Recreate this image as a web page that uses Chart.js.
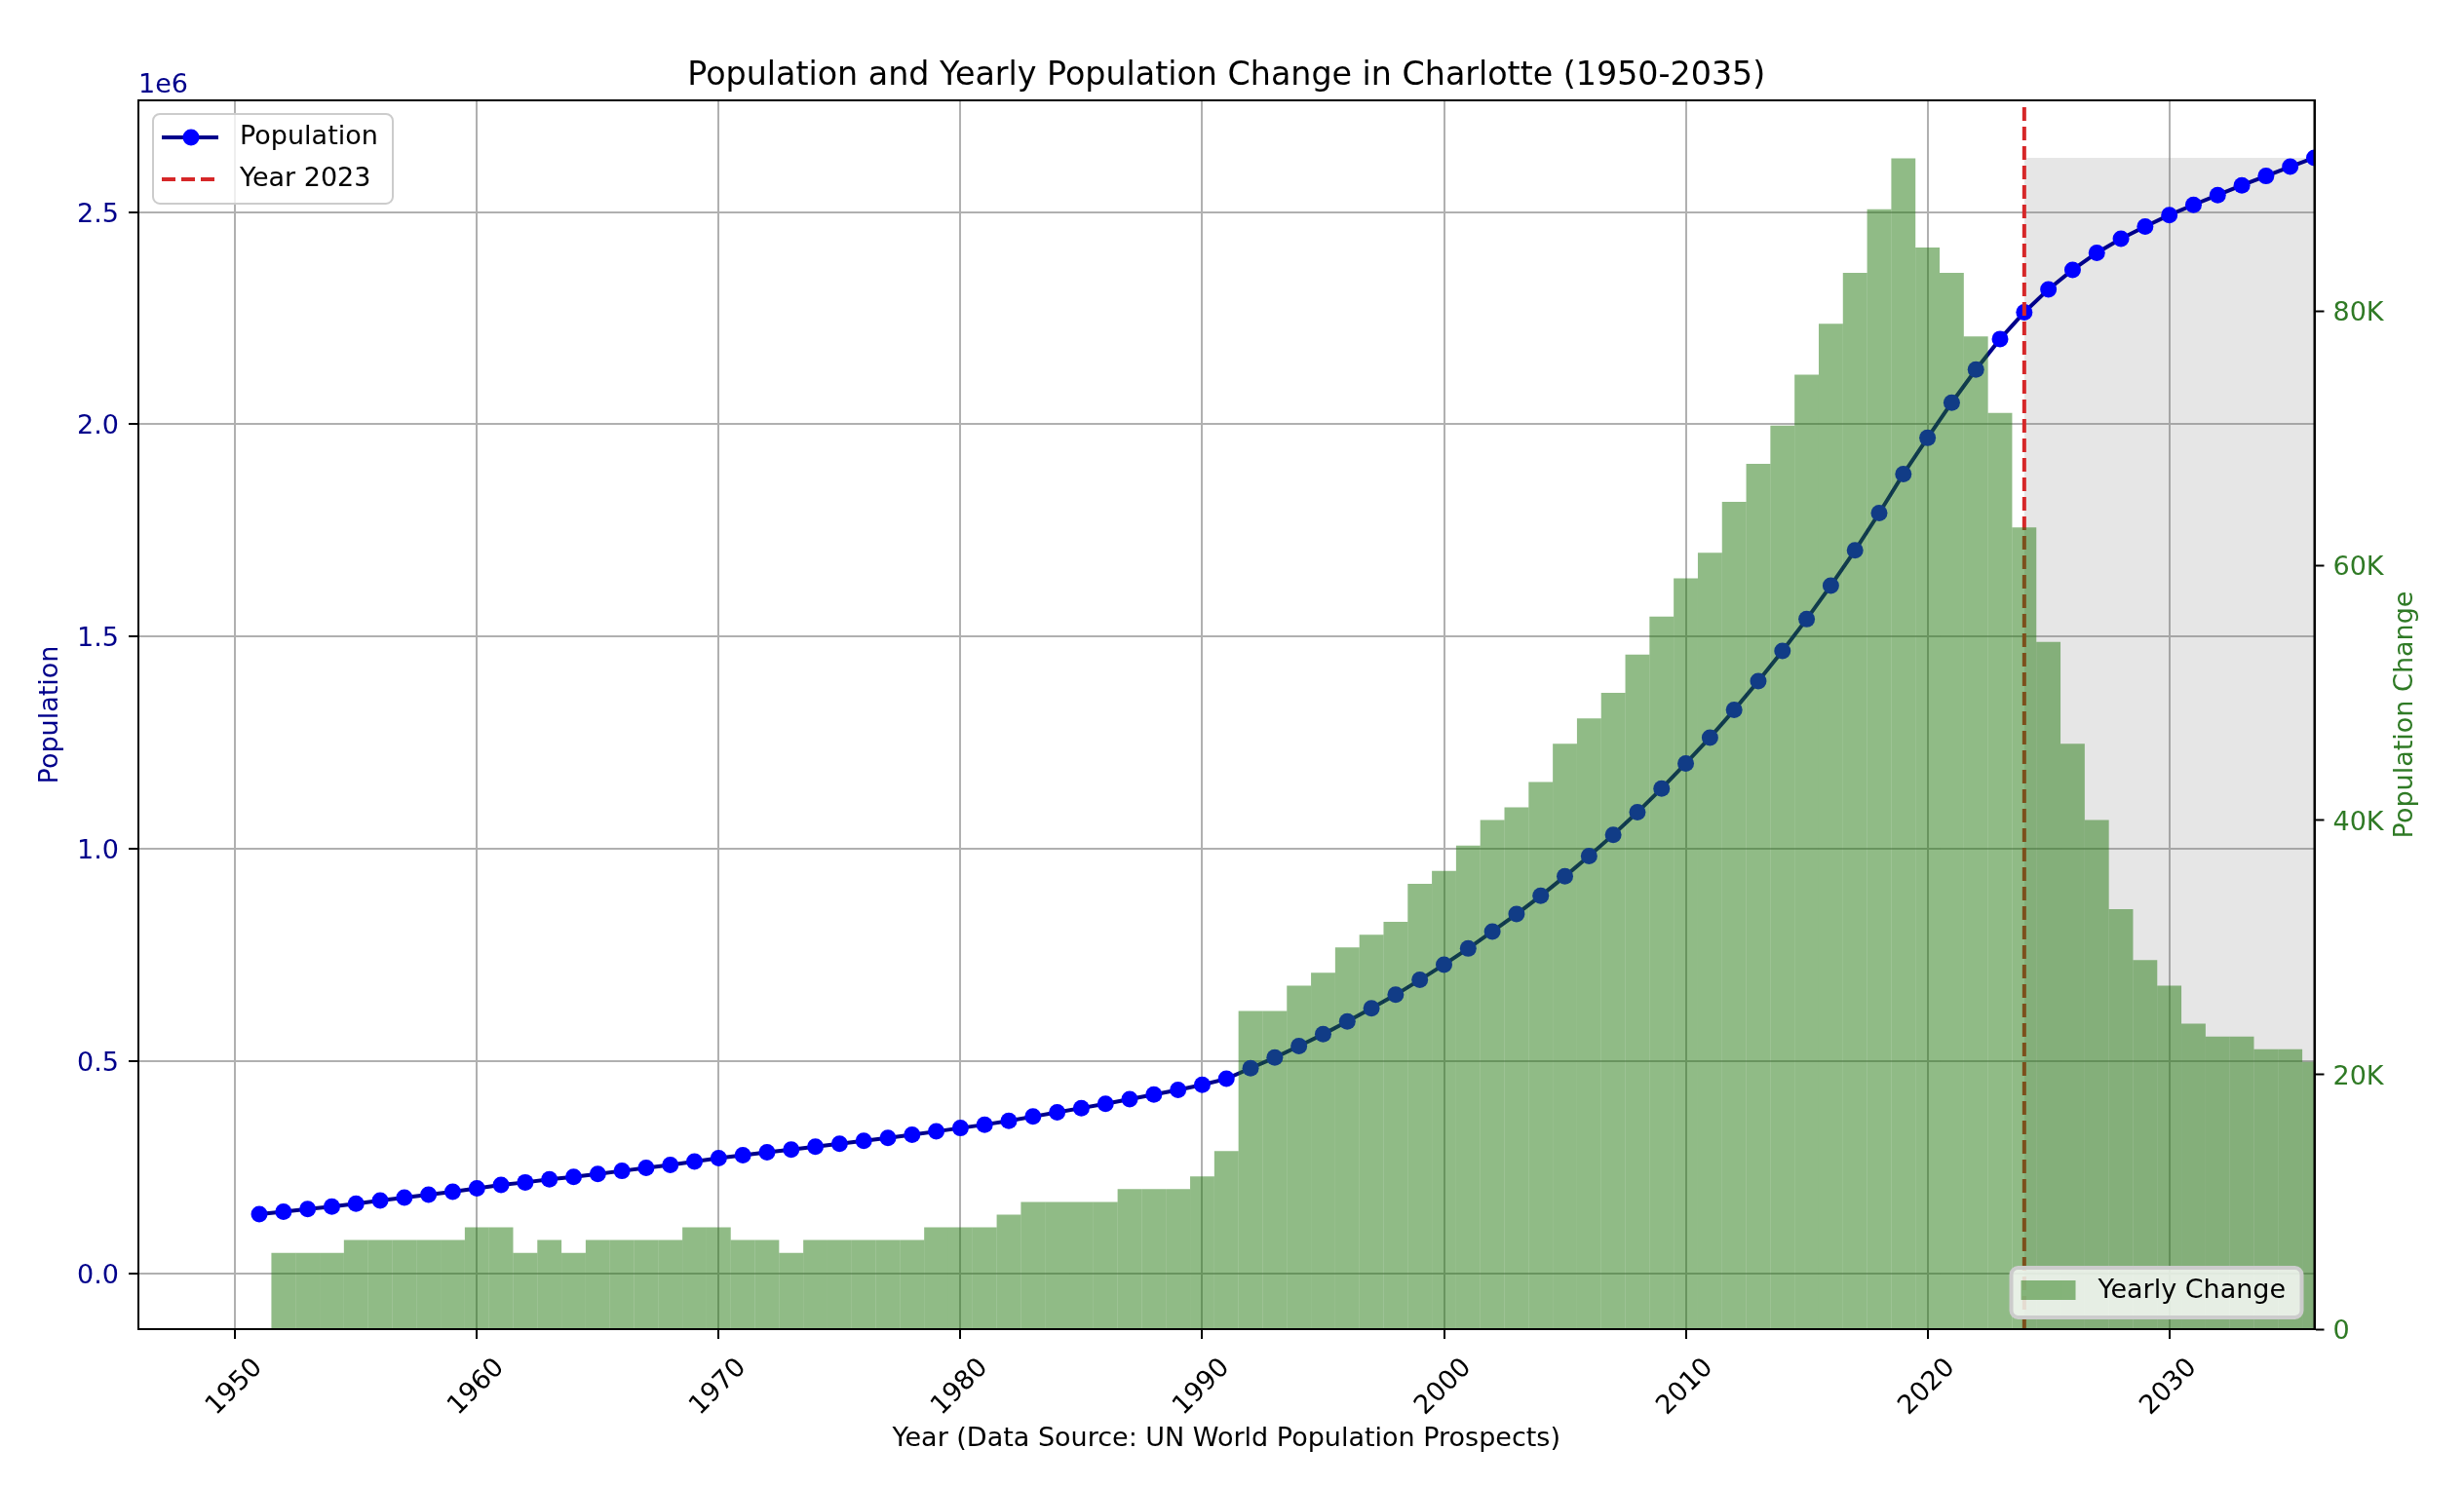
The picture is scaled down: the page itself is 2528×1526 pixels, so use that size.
<!DOCTYPE html>
<html>
  <head>
    <meta charset="UTF-8">
    <title>Population and Yearly Population Change in Charlotte</title>
    <script src="https://cdn.jsdelivr.net/npm/chart.js@4.4.0/dist/chart.umd.min.js"></script>
    <style>
      body { margin: 0; background: #ffffff; }
      #chartPopulation { display: block; }
    </style>
  </head>
  <body>
    <canvas id="chartPopulation" width="2528" height="1526"></canvas>

    <script>
      // population, one point per year
      const popYears = [
        1951, 1952, 1953, 1954, 1955, 1956, 1957, 1958, 1959, 1960,
        1961, 1962, 1963, 1964, 1965, 1966, 1967, 1968, 1969, 1970,
        1971, 1972, 1973, 1974, 1975, 1976, 1977, 1978, 1979, 1980,
        1981, 1982, 1983, 1984, 1985, 1986, 1987, 1988, 1989, 1990,
        1991, 1992, 1993, 1994, 1995, 1996, 1997, 1998, 1999, 2000,
        2001, 2002, 2003, 2004, 2005, 2006, 2007, 2008, 2009, 2010,
        2011, 2012, 2013, 2014, 2015, 2016, 2017, 2018, 2019, 2020,
        2021, 2022, 2023, 2024, 2025, 2026, 2027, 2028, 2029, 2030,
        2031, 2032, 2033, 2034, 2035, 2036
      ];
      const population = [
        139000, 145000, 151000, 157000, 164000, 171000, 178000, 185000, 192000, 200000,
        208000, 214000, 221000, 227000, 234000, 241000, 248000, 255000, 263000, 271000,
        278000, 285000, 291000, 298000, 305000, 312000, 319000, 326000, 334000, 342000,
        350000, 359000, 369000, 379000, 389000, 399000, 410000, 421000, 432000, 444000,
        458000, 483000, 508000, 535000, 563000, 593000, 624000, 656000, 691000, 727000,
        765000, 805000, 846000, 889000, 935000, 983000, 1033000, 1086000, 1142000, 1201000,
        1262000, 1327000, 1395000, 1466000, 1541000, 1620000, 1703000, 1791000, 1883000, 1968000,
        2051000, 2129000, 2201000, 2264000, 2318000, 2364000, 2404000, 2437000, 2466000, 2493000,
        2517000, 2540000, 2563000, 2585000, 2607000, 2628000
      ];

      // yearly change, one bar per year
      const changeYears = [
        1952, 1953, 1954, 1955, 1956, 1957, 1958, 1959, 1960,
        1961, 1962, 1963, 1964, 1965, 1966, 1967, 1968, 1969, 1970,
        1971, 1972, 1973, 1974, 1975, 1976, 1977, 1978, 1979, 1980,
        1981, 1982, 1983, 1984, 1985, 1986, 1987, 1988, 1989, 1990,
        1991, 1992, 1993, 1994, 1995, 1996, 1997, 1998, 1999, 2000,
        2001, 2002, 2003, 2004, 2005, 2006, 2007, 2008, 2009, 2010,
        2011, 2012, 2013, 2014, 2015, 2016, 2017, 2018, 2019, 2020,
        2021, 2022, 2023, 2024, 2025, 2026, 2027, 2028, 2029, 2030,
        2031, 2032, 2033, 2034, 2035, 2036
      ];
      const yearlyChange = [
        6000, 6000, 6000, 7000, 7000, 7000, 7000, 7000, 8000,
        8000, 6000, 7000, 6000, 7000, 7000, 7000, 7000, 8000, 8000,
        7000, 7000, 6000, 7000, 7000, 7000, 7000, 7000, 8000, 8000,
        8000, 9000, 10000, 10000, 10000, 10000, 11000, 11000, 11000, 12000,
        14000, 25000, 25000, 27000, 28000, 30000, 31000, 32000, 35000, 36000,
        38000, 40000, 41000, 43000, 46000, 48000, 50000, 53000, 56000, 59000,
        61000, 65000, 68000, 71000, 75000, 79000, 83000, 88000, 92000, 85000,
        83000, 78000, 72000, 63000, 54000, 46000, 40000, 33000, 29000, 27000,
        24000, 23000, 23000, 22000, 22000, 21000
      ];

      // marker line and projection shading
      const markYear = 2024;
      const shadeYears = [2024, 2036];
      const shadeTop = 2628000;

      // axis ranges and tick values
      const xMin = 1946, xMax = 2036;
      const xTicks = [1950, 1960, 1970, 1980, 1990, 2000, 2010, 2020, 2030];
      const popMin = -131800, popMax = 2763300;
      const popTicks = [0, 500000, 1000000, 1500000, 2000000, 2500000];
      const changeMin = 0, changeMax = 96560;
      const changeTicks = [0, 20000, 40000, 60000, 80000];

      const popLine = '#00008b';
      const popMarker = '#0000ff';
      const barColor = 'rgba(34, 120, 14, 0.5)';
      const changeText = '#2f7a25';
      const redLine = '#d62728';
      const shadeColor = 'rgba(128, 128, 128, 0.2)';
      const gridColor = '#b0b0b0';

      Chart.defaults.font.family = "'DejaVu Sans', sans-serif";
      Chart.defaults.font.size = 27;
      Chart.defaults.color = '#000000';

      const setTicks = (values) => (scale) => {
        scale.ticks = values.map((v) => ({value: v}));
      };

      const overlayPlugin = {
        id: 'overlay',
        afterDatasetsDraw(chart) {
          const ctx = chart.ctx;
          const a = chart.chartArea;
          ctx.save();

          // axes frame
          ctx.strokeStyle = '#000000';
          ctx.lineWidth = 2;
          ctx.strokeRect(a.left, a.top, a.right - a.left, a.bottom - a.top);

          ctx.font = "27px 'DejaVu Sans'";

          // offset text of left axis
          ctx.fillStyle = popLine;
          ctx.textAlign = 'left';
          ctx.textBaseline = 'alphabetic';
          ctx.fillText('1e6', a.left, a.top - 8);

          // right axis title, reads upward
          ctx.save();
          ctx.translate(a.right + 93, (a.top + a.bottom) / 2);
          ctx.rotate(-Math.PI / 2);
          ctx.textAlign = 'center';
          ctx.textBaseline = 'middle';
          ctx.fillStyle = changeText;
          ctx.fillText('Population Change', 0, 0);
          ctx.restore();

          // legend of the left axis
          let bx = a.left + 15, by = a.top + 14;
          ctx.beginPath();
          ctx.roundRect(bx, by, 246, 92, 7);
          ctx.fillStyle = 'rgba(255, 255, 255, 0.8)';
          ctx.fill();
          ctx.strokeStyle = '#cccccc';
          ctx.lineWidth = 2;
          ctx.stroke();

          ctx.strokeStyle = popLine;
          ctx.lineWidth = 4;
          ctx.beginPath();
          ctx.moveTo(bx + 9, by + 24);
          ctx.lineTo(bx + 67, by + 24);
          ctx.stroke();
          ctx.fillStyle = popMarker;
          ctx.beginPath();
          ctx.arc(bx + 39, by + 24, 8.5, 0, Math.PI * 2);
          ctx.fill();

          ctx.strokeStyle = redLine;
          ctx.setLineDash([14, 6]);
          ctx.beginPath();
          ctx.moveTo(bx + 9, by + 67);
          ctx.lineTo(bx + 67, by + 67);
          ctx.stroke();
          ctx.setLineDash([]);

          ctx.fillStyle = '#000000';
          ctx.textAlign = 'left';
          ctx.textBaseline = 'middle';
          ctx.fillText('Population', bx + 89, by + 24);
          ctx.fillText('Year 2023', bx + 89, by + 67);

          // legend of the right axis
          bx = a.right - 13 - 298;
          by = a.bottom - 12 - 51;
          ctx.beginPath();
          ctx.roundRect(bx, by, 298, 51, 7);
          ctx.fillStyle = 'rgba(255, 255, 255, 0.8)';
          ctx.fill();
          ctx.strokeStyle = '#cccccc';
          ctx.stroke();
          ctx.fillStyle = barColor;
          ctx.fillRect(bx + 10, by + 13, 56, 20);
          ctx.fillStyle = '#000000';
          ctx.fillText('Yearly Change', bx + 89, by + 24);

          ctx.restore();
        }
      };

      new Chart(document.getElementById('chartPopulation'), {
        type: 'bar',
        data: {
          datasets: [
            {
              type: 'bar',
              label: 'Yearly Change',
              data: changeYears.map((x, i) => ({x: x, y: yearlyChange[i]})),
              yAxisID: 'y2',
              backgroundColor: barColor,
              borderWidth: 0,
              inflateAmount: 0,
              barPercentage: 1.0,
              categoryPercentage: 1.0,
              clip: 0,
              order: 0
            },
            {
              type: 'line',
              label: 'Year 2023',
              data: [{x: markYear, y: popMin}, {x: markYear, y: popMax}],
              yAxisID: 'y',
              borderColor: redLine,
              borderWidth: 4,
              borderDash: [14, 6],
              pointRadius: 0,
              fill: false,
              clip: 0,
              order: 1
            },
            {
              type: 'line',
              label: 'Population',
              data: popYears.map((x, i) => ({x: x, y: population[i]})),
              yAxisID: 'y',
              borderColor: popLine,
              borderWidth: 4,
              pointRadius: 8.5,
              pointBackgroundColor: popMarker,
              pointBorderColor: popMarker,
              pointBorderWidth: 0,
              tension: 0,
              fill: false,
              clip: 0,
              order: 2
            },
            {
              type: 'line',
              label: 'Projection',
              data: shadeYears.map((x) => ({x: x, y: shadeTop})),
              yAxisID: 'y',
              borderWidth: 0,
              pointRadius: 0,
              backgroundColor: shadeColor,
              fill: 'start',
              clip: 0,
              order: 3
            }
          ]
        },
        options: {
          responsive: false,
          devicePixelRatio: 1,
          animation: false,
          events: [],
          layout: { padding: 0 },
          scales: {
            x: {
              type: 'linear',
              position: 'bottom',
              min: xMin,
              max: xMax,
              offset: false,
              afterBuildTicks: setTicks(xTicks),
              ticks: {
                minRotation: 45,
                maxRotation: 45,
                autoSkip: false,
                padding: 14,
                labelOffset: 24,
                color: '#000000',
                callback: (v) => String(v)
              },
              grid: {
                offset: false,
                color: gridColor,
                lineWidth: 2,
                tickColor: '#000000',
                tickLength: 10,
                tickWidth: 2
              },
              border: { color: '#000000', width: 2 },
              title: {
                display: true,
                text: 'Year (Data Source: UN World Population Prospects)',
                color: '#000000',
                padding: { top: 0, bottom: 33 }
              },
              afterFit: (s) => { s.height = 162; }
            },
            y: {
              type: 'linear',
              position: 'left',
              min: popMin,
              max: popMax,
              afterBuildTicks: setTicks(popTicks),
              ticks: {
                autoSkip: false,
                padding: 10,
                labelOffset: 3,
                color: popLine,
                callback: (v) => (v / 1e6).toFixed(1)
              },
              grid: {
                color: gridColor,
                lineWidth: 2,
                tickColor: '#000000',
                tickLength: 10,
                tickWidth: 2
              },
              border: { color: '#000000', width: 2 },
              title: {
                display: true,
                text: 'Population',
                color: popLine,
                padding: { top: 36, bottom: 0 }
              },
              afterFit: (s) => { s.width = 142; }
            },
            y2: {
              type: 'linear',
              position: 'right',
              min: changeMin,
              max: changeMax,
              afterBuildTicks: setTicks(changeTicks),
              ticks: {
                autoSkip: false,
                padding: 9,
                labelOffset: 3,
                color: changeText,
                callback: (v) => (v === 0 ? '0' : (v / 1000) + 'K')
              },
              grid: {
                drawOnChartArea: false,
                tickColor: '#000000',
                tickLength: 10,
                tickWidth: 2
              },
              border: { color: '#000000', width: 2 },
              afterFit: (s) => { s.width = 153.5; }
            }
          },
          plugins: {
            legend: { display: false },
            tooltip: { enabled: false },
            title: {
              display: true,
              fullSize: false,
              text: 'Population and Yearly Population Change in Charlotte (1950-2035)',
              color: '#000000',
              font: { size: 33.3, weight: 'normal' },
              padding: { top: 58, bottom: 5 }
            }
          }
        },
        plugins: [overlayPlugin]
      });
    </script>
  </body>
</html>
